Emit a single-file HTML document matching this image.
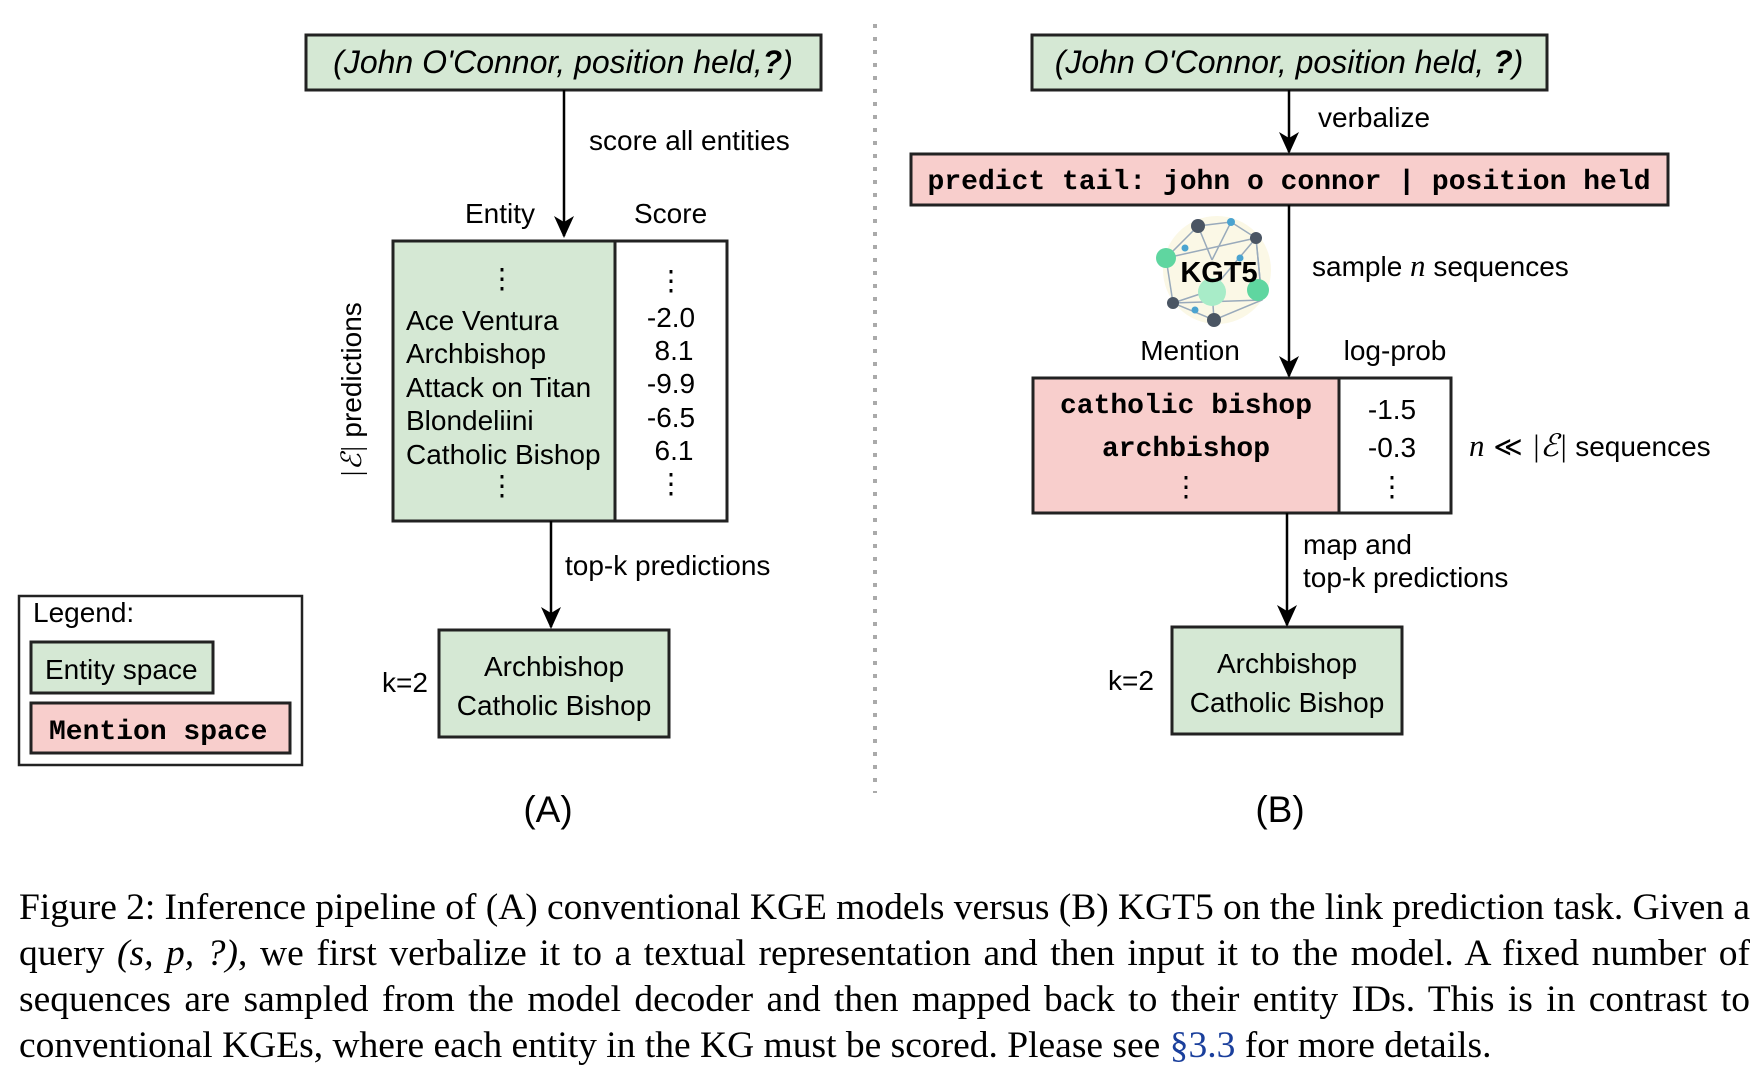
<!DOCTYPE html>
<html><head><meta charset="utf-8"><style>
html,body{margin:0;padding:0;background:#fff;}
body{width:1755px;height:1070px;position:relative;overflow:hidden;}
svg{position:absolute;left:0;top:0;}
.cap{position:absolute;left:19px;width:1731px;font-family:"Liberation Serif",serif;font-size:37.5px;line-height:46px;color:#000;white-space:nowrap;}
.j{text-align:justify;text-align-last:justify;white-space:normal;height:46px;overflow:hidden;}
</style></head><body>
<svg width="1755" height="880" viewBox="0 0 1755 880" font-family="Liberation Sans, sans-serif" fill="#000">
<defs><marker id="ar" markerWidth="22" markerHeight="22" refX="20" refY="11" orient="auto" markerUnits="userSpaceOnUse" viewBox="0 0 22 22"><path d="M0,1 L22,11 L0,21 L6,11 z" fill="#000"/></marker></defs>
<g stroke="#222" stroke-width="3">
<rect x="306" y="35" width="515" height="55" fill="#d5e8d4"/>
<rect x="393" y="241" width="222" height="280" fill="#d5e8d4"/>
<rect x="615" y="241" width="112" height="280" fill="#fff"/>
<rect x="439" y="630" width="230" height="107" fill="#d5e8d4"/>
<rect x="19" y="596" width="283" height="169" fill="#fff" stroke-width="2.5"/>
<rect x="31" y="642" width="182" height="51" fill="#d5e8d4"/>
<rect x="31" y="703" width="259" height="50" fill="#f8cecc"/>
<rect x="1032" y="35" width="515" height="55" fill="#d5e8d4"/>
<rect x="911" y="154" width="757" height="51" fill="#f8cecc"/>
<rect x="1033" y="378" width="306" height="135" fill="#f8cecc"/>
<rect x="1339" y="378" width="112" height="135" fill="#fff"/>
<rect x="1172" y="627" width="230" height="107" fill="#d5e8d4"/>
</g>
<g stroke="#000" stroke-width="2.5" fill="none">
<line x1="564" y1="90" x2="564" y2="236" marker-end="url(#ar)"/>
<line x1="551" y1="521" x2="551" y2="627" marker-end="url(#ar)"/>
<line x1="1289" y1="90" x2="1289" y2="152" marker-end="url(#ar)"/>
<line x1="1289" y1="205" x2="1289" y2="376" marker-end="url(#ar)"/>
<line x1="1287" y1="513" x2="1287" y2="625" marker-end="url(#ar)"/>
</g>
<line x1="875" y1="24" x2="875" y2="793" stroke="#aaa" stroke-width="4" stroke-dasharray="4 9"/>

<g font-size="28">
<text x="563" y="73" font-size="32" font-style="italic" text-anchor="middle">(John O'Connor, position held,<tspan font-weight="bold">?</tspan>)</text>
<text x="589" y="150">score all entities</text>
<text x="465" y="223">Entity</text>
<text x="634" y="223">Score</text>
<text x="502" y="288" text-anchor="middle">⋮</text>
<text x="406" y="330">Ace Ventura</text>
<text x="406" y="363">Archbishop</text>
<text x="406" y="397">Attack on Titan</text>
<text x="406" y="430">Blondeliini</text>
<text x="406" y="464">Catholic Bishop</text>
<text x="502" y="495" text-anchor="middle">⋮</text>
<text x="671" y="290" text-anchor="middle">⋮</text>
<text x="671" y="327" text-anchor="middle">-2.0</text>
<text x="674" y="360" text-anchor="middle">8.1</text>
<text x="671" y="393" text-anchor="middle">-9.9</text>
<text x="671" y="427" text-anchor="middle">-6.5</text>
<text x="674" y="460" text-anchor="middle">6.1</text>
<text x="671" y="493" text-anchor="middle">⋮</text>
<text transform="translate(361,390) rotate(-90)" text-anchor="middle"><tspan font-family="Liberation Serif, serif" font-style="italic">|ℰ|</tspan> predictions</text>
<text x="565" y="575">top-k predictions</text>
<text x="554" y="676" text-anchor="middle">Archbishop</text>
<text x="554" y="715" text-anchor="middle">Catholic Bishop</text>
<text x="382" y="692">k=2</text>
<text x="33" y="622">Legend:</text>
<text x="45" y="679">Entity space</text>
<text x="49" y="739" font-family="Liberation Mono, monospace" font-weight="bold" font-size="28">Mention space</text>
<text x="548" y="822" font-size="37" text-anchor="middle">(A)</text>

<text x="1289" y="73" font-size="32" font-style="italic" text-anchor="middle">(John O'Connor, position held, <tspan font-weight="bold">?</tspan>)</text>
<text x="1318" y="127">verbalize</text>
<text x="1289" y="189" font-family="Liberation Mono, monospace" font-weight="bold" font-size="28" text-anchor="middle" textLength="723">predict tail: john o connor | position held</text>
<text x="1312" y="276">sample <tspan font-family="Liberation Serif, serif" font-style="italic" font-size="31">n</tspan> sequences</text>
<text x="1190" y="360" text-anchor="middle">Mention</text>
<text x="1395" y="360" text-anchor="middle">log-prob</text>
<text x="1186" y="413" font-family="Liberation Mono, monospace" font-weight="bold" font-size="28" text-anchor="middle">catholic bishop</text>
<text x="1186" y="456" font-family="Liberation Mono, monospace" font-weight="bold" font-size="28" text-anchor="middle">archbishop</text>
<text x="1186" y="496" text-anchor="middle">⋮</text>
<text x="1392" y="419" text-anchor="middle">-1.5</text>
<text x="1392" y="457" text-anchor="middle">-0.3</text>
<text x="1392" y="496" text-anchor="middle">⋮</text>
<text x="1469" y="456"><tspan font-family="Liberation Serif, serif" font-style="italic" font-size="31">n</tspan><tspan font-family="DejaVu Sans, sans-serif"> ≪ </tspan><tspan font-family="Liberation Serif, serif" font-style="italic" font-size="31">|ℰ|</tspan> sequences</text>
<text x="1303" y="554">map and</text>
<text x="1303" y="587">top-k  predictions</text>
<text x="1287" y="673" text-anchor="middle">Archbishop</text>
<text x="1287" y="712" text-anchor="middle">Catholic Bishop</text>
<text x="1108" y="690">k=2</text>
<text x="1280" y="822" font-size="37" text-anchor="middle">(B)</text>
</g>

<g>
<circle cx="1217" cy="270" r="54" fill="#fbf8e6"/>
<g stroke="#9ab" stroke-width="1.5" fill="none">
<polyline points="1198,226 1231,222 1256,238 1262,300 1214,320 1173,303 1166,258 1198,226"/>
<line x1="1198" y1="226" x2="1212" y2="260"/><line x1="1231" y1="222" x2="1212" y2="260"/>
<line x1="1256" y1="238" x2="1212" y2="290"/><line x1="1173" y1="303" x2="1212" y2="290"/>
<line x1="1214" y1="320" x2="1212" y2="290"/><line x1="1256" y1="238" x2="1262" y2="300"/>
<line x1="1166" y1="258" x2="1256" y2="238"/><line x1="1173" y1="303" x2="1262" y2="300"/>
</g>
<circle cx="1198" cy="226" r="7" fill="#4a5563"/>
<circle cx="1256" cy="238" r="6" fill="#4a5563"/>
<circle cx="1214" cy="320" r="7" fill="#4a5563"/>
<circle cx="1173" cy="303" r="6" fill="#4a5563"/>
<circle cx="1231" cy="222" r="4" fill="#4aa3d0"/>
<circle cx="1185" cy="248" r="3.5" fill="#4aa3d0"/>
<circle cx="1240" cy="258" r="3.5" fill="#4aa3d0"/>
<circle cx="1195" cy="310" r="3.5" fill="#4aa3d0"/>
<circle cx="1166" cy="258" r="10" fill="#5fd6a0"/>
<circle cx="1258" cy="290" r="11" fill="#5fd6a0"/>
<circle cx="1212" cy="292" r="14" fill="#a8ecc8"/>
<text x="1219" y="282" font-size="29" font-weight="bold" text-anchor="middle">KGT5</text>
</g>
</svg>
<div class="cap j" style="top:885px;word-spacing:-2px;">Figure 2: Inference pipeline of (A) conventional KGE models versus (B) KGT5 on the link prediction task. Given a</div>
<div class="cap j" style="top:931px;">query <i>(s, p, ?)</i>, we first verbalize it to a textual representation and then input it to the model. A fixed number of</div>
<div class="cap j" style="top:977px;">sequences are sampled from the model decoder and then mapped back to their entity IDs. This is in contrast to</div>
<div class="cap" style="top:1023px;">conventional KGEs, where each entity in the KG must be scored. Please see <span style="color:#1a3f9c">§3.3</span> for more details.</div>
</body></html>
